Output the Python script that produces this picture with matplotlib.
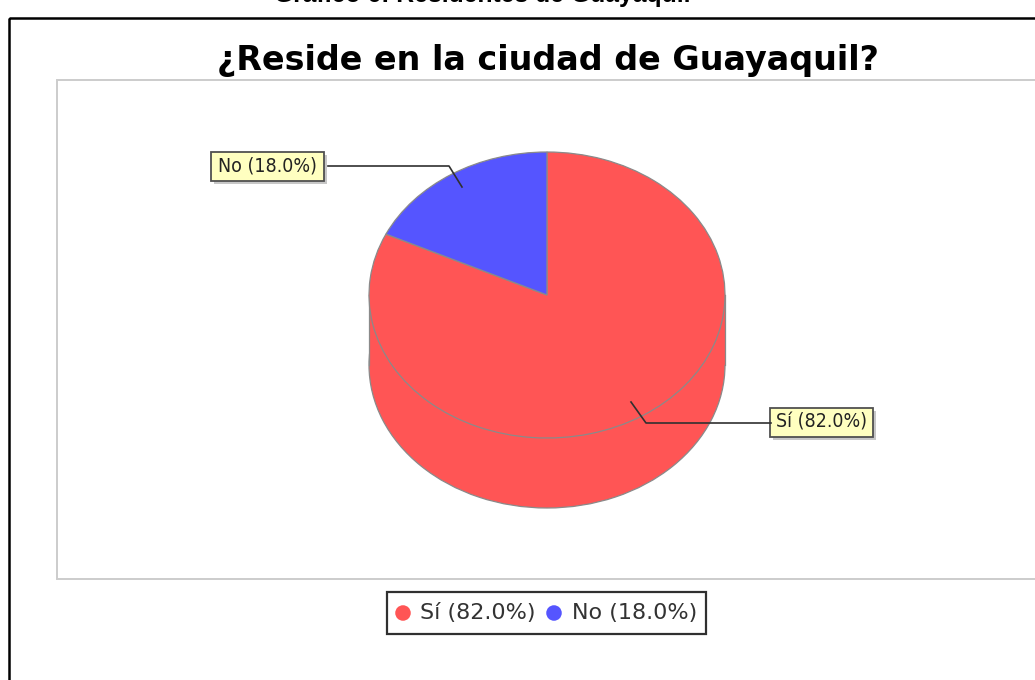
import matplotlib
matplotlib.use("Agg")
import matplotlib.pyplot as plt
from matplotlib.patches import Rectangle

W, H = 1035, 680
categories = ["Sí", "No"]
values = [82.0, 18.0]
colors = ["#ff5555", "#5555ff"]
labels = ["{} ({}%)".format(c, v) for c, v in zip(categories, values)]
title = "¿Reside en la ciudad de Guayaquil?"
caption = "Gráfico 6: Residentes de Guayaquil"

plt.rcParams['font.family'] = ['DejaVu Sans']
fig = plt.figure(figsize=(W / 100, H / 100), dpi=100, facecolor="white")


def px_axes(x0, y0, x1, y1):
    # axes from pixel box, y measured from the top of the picture
    return fig.add_axes([x0 / W, 1 - y1 / H, (x1 - x0) / W, (y1 - y0) / H])


def tag(ax, x0, y0, x1, y1, text):
    # yellow label with a small grey shadow
    ax.add_patch(Rectangle((x0 + 3, y0 + 3), x1 - x0, y1 - y0, fc="#b0b0b0", ec="none", alpha=0.7))
    ax.add_patch(Rectangle((x0, y0), x1 - x0, y1 - y0, fc="#ffffc0", ec="#505050", lw=1.3))
    ax.text((x0 + x1) / 2, (y0 + y1) / 2, text, fontsize=14, ha="center", va="center",
            color="#222222", fontstretch="condensed")


# outer black frame, runs off the right and bottom edge
bg = px_axes(0, 0, W, H)
bg.set_xlim(0, W)
bg.set_ylim(H, 0)
bg.axis("off")
bg.add_patch(Rectangle((9, 18), W, H, fill=False, ec="black", lw=1.8))
bg.add_patch(Rectangle((57, 80), W, 499, fc="white", ec="#cccccc", lw=1.4))
fig.text(482 / W, 1 - 2 / H, caption, family="Liberation Sans", weight="bold",
         fontsize=17.8, ha="center", va="baseline", color="black")
fig.text(548 / W, 1 - 70 / H, title, weight="bold", fontsize=24, ha="center",
         va="baseline", color="black")

# 3d body: same pie drawn lower, with a band between the two
edge = {"edgecolor": "#8a8a8a", "linewidth": 0.9}
low = px_axes(369, 222, 725, 508)
low.pie([100], colors=[colors[0]], radius=1, wedgeprops=edge)
low.set_aspect("auto")
low.set_xlim(-1, 1)
low.set_ylim(-1, 1)
low.add_patch(Rectangle((-1, 0), 2, 0.49, fc=colors[0], ec="none", zorder=3))
low.plot([-1, -1], [0, 0.49], color="#8a8a8a", lw=0.9, zorder=4, clip_on=False)
low.plot([1, 1], [0, 0.49], color="#8a8a8a", lw=0.9, zorder=4, clip_on=False)

top = px_axes(369, 152, 725, 438)
top.pie(values, colors=colors, startangle=90, counterclock=False, radius=1,
        wedgeprops=edge)
top.set_aspect("auto")
top.set_xlim(-1, 1)
top.set_ylim(-1, 1)
top.patch.set_alpha(0)

# leader lines and yellow labels
over = px_axes(0, 0, W, H)
over.set_xlim(0, W)
over.set_ylim(H, 0)
over.axis("off")
over.patch.set_alpha(0)
over.plot([462, 449, 328], [187, 166, 166], color="#303030", lw=1.2)
over.plot([631, 646, 771], [402, 423, 423], color="#303030", lw=1.2)
tag(over, 211, 152, 324, 181, labels[1])
tag(over, 770, 408, 873, 437, labels[0])

# legend
over.add_patch(Rectangle((387, 592), 319, 42, fc="white", ec="#303030", lw=1.6))
over.scatter([403, 554], [613, 613], s=125, c=colors, linewidths=0)
over.text(420, 613, labels[0], fontsize=16, ha="left", va="center", color="#333333")
over.text(572, 613, labels[1], fontsize=16, ha="left", va="center", color="#333333")

fig.savefig("out.png", dpi=100, facecolor="white")
